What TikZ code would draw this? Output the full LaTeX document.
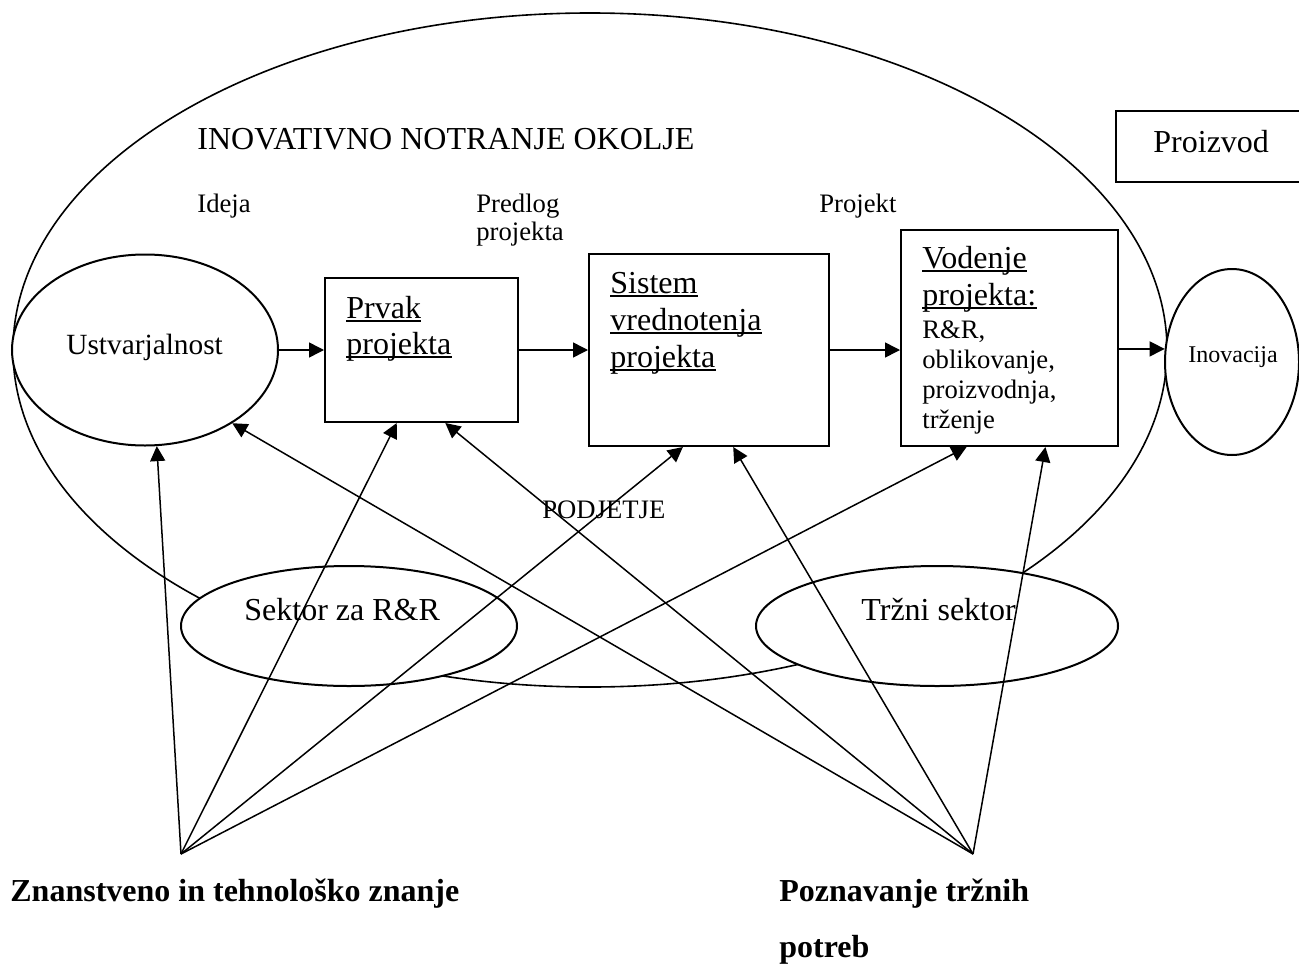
\documentclass[tikz,border=0pt]{standalone}
\usepackage{fontspec}
\setmainfont{Liberation Serif}
\usetikzlibrary{shapes.geometric,arrows.meta,calc}
\begin{document}
\begin{tikzpicture}[x=0.5pt,y=-0.5pt,
  lbl/.style={anchor=base west,inner sep=0pt},
  big/.style={lbl,font=\fontsize{16}{19}\selectfont},
  mid/.style={lbl,font=\fontsize{14.67}{17}\selectfont},
  sml/.style={lbl,font=\fontsize{13.33}{16}\selectfont},
  tiny/.style={lbl,font=\fontsize{12}{14}\selectfont},
  bld/.style={lbl,font=\fontsize{16}{19}\selectfont\bfseries},
  boxn/.style={draw,line width=1pt,rectangle,inner sep=0pt,fill=white},
  ell/.style={draw,line width=1pt,ellipse,inner sep=0pt,fill=white},
  arr/.style={line width=0.75pt,-{Triangle[length=7.5pt,width=7.5pt]}},
  ul/.style={line width=0.8pt}]
\useasboundingbox (0,0) rectangle (1299,963);
\clip (0,0) rectangle (1299,963);
% enclosing environment
\node[ellipse,draw,line width=0.8pt,inner sep=0pt,minimum width=577pt,minimum height=337pt] (env) at (590,350) {};
% ellipses
\node[ell,minimum width=133pt,minimum height=95.5pt] (ustv) at (145,350) {};
\node[ell,minimum width=67pt,minimum height=93pt] (inov) at (1232,362) {};
\node[ell,minimum width=168pt,minimum height=60pt] (sek) at (349,626) {};
\node[ell,minimum width=181pt,minimum height=60pt] (trz) at (937,626) {};
% boxes
\node[boxn,minimum width=96.5pt,minimum height=72pt] (prvak) at (421.5,350) {};
\node[boxn,minimum width=120pt,minimum height=96pt] (sistem) at (709,350) {};
\node[boxn,minimum width=108.5pt,minimum height=108pt] (vodenje) at (1009.5,338) {};
\node[boxn,minimum width=97pt,minimum height=35.5pt] (proizvod) at (1213,146.5) {};
% texts
\node[big] (t-env) at (197,149) {INOVATIVNO NOTRANJE OKOLJE};
\node[sml] (t-ideja) at (197,212) {Ideja};
\node[sml] (t-pred1) at (476,212) {Predlog};
\node[sml] (t-pred2) at (476,240) {projekta};
\node[sml] (t-proj) at (819,212) {Projekt};
\node[big] (t-proizvod) at (1153,152) {Proizvod};
\node[mid] (t-ustv) at (66,354) {Ustvarjalnost};
\node[big] (t-prv1) at (346,318) {Prvak};
\node[big] (t-prv2) at (346,354) {projekta};
\node[big] (t-sis1) at (610,293) {Sistem};
\node[big] (t-sis2) at (610,330) {vrednotenja};
\node[big] (t-sis3) at (610,367) {projekta};
\node[big] (t-vod1) at (922,268) {Vodenje};
\node[big] (t-vod2) at (922,305) {projekta:};
\node[sml] (t-vod3) at (922,338) {R\&R,};
\node[sml] (t-vod4) at (922,368) {oblikovanje,};
\node[sml] (t-vod5) at (922,398) {proizvodnja,};
\node[sml] (t-vod6) at (922,428) {trženje};
\node[tiny] (t-inov) at (1188,362) {Inovacija};
\node[sml] (t-podj) at (542,518) {PODJETJE};
\node[big] (t-sek) at (244,620) {Sektor za R\&R};
\node[big] (t-trz) at (861,620) {Tržni sektor};
\node[bld] (t-znan) at (10,901) {Znanstveno in tehnološko znanje};
\node[bld] (t-pozn1) at (779,901) {Poznavanje tržnih};
\node[bld] (t-pozn2) at (779,957) {potreb};
% underlines
\foreach \n in {t-prv1,t-prv2,t-sis1,t-sis2,t-sis3,t-vod1,t-vod2}
  \draw[ul] ([yshift=-1.6pt]\n.base west) -- ([yshift=-1.6pt]\n.base east);
% flow arrows
\draw[arr] (ustv.east) -- (prvak.west);
\draw[arr] (prvak.east) -- (sistem.west);
\draw[arr] (sistem.east) -- (sistem.east -| vodenje.west);
\draw[arr] (inov.169 -| vodenje.east) -- (inov.169);
% knowledge sources
\coordinate (L) at (181,854);
\coordinate (R) at (973,854);
\draw[arr] (L) -- (ustv.-83);
\draw[arr] (L) -- ($(prvak.south west)!0.373!(prvak.south east)$);
\draw[arr] (L) -- ($(sistem.south west)!0.392!(sistem.south east)$);
\draw[arr] (L) -- ($(vodenje.south west)!0.304!(vodenje.south east)$);
\draw[arr] (R) -- (ustv.-40);
\draw[arr] (R) -- ($(prvak.south west)!0.622!(prvak.south east)$);
\draw[arr] (R) -- ($(sistem.south west)!0.6!(sistem.south east)$);
\draw[arr] (R) -- ($(vodenje.south west)!0.664!(vodenje.south east)$);
\end{tikzpicture}
\end{document}
